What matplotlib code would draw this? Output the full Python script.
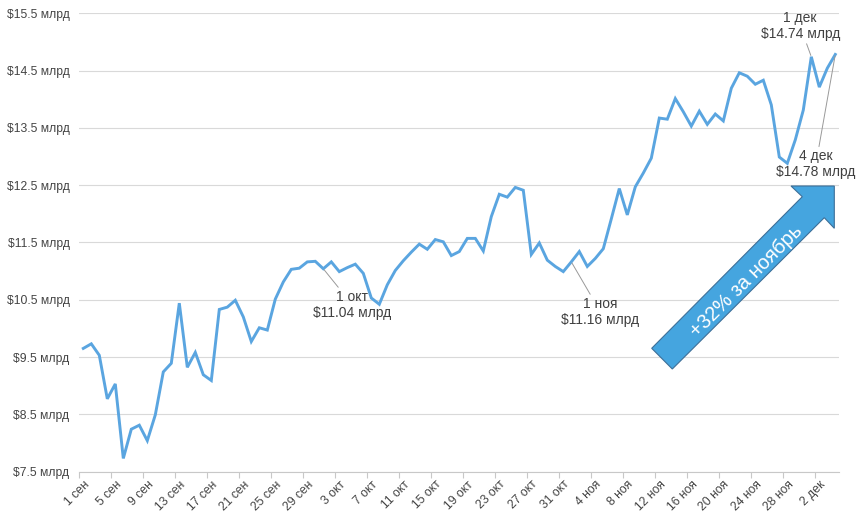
import numpy as np
import matplotlib
matplotlib.use("Agg")
import matplotlib.pyplot as plt
from matplotlib.patches import Polygon

plt.rcParams['font.family'] = ['Liberation Sans', 'DejaVu Sans']

# дневные значения с 1 сен по 4 дек, млрд $
values = [
    9.65, 9.73, 9.53, 8.77, 9.03, 7.73, 8.24, 8.31, 8.04, 8.49,
    9.24, 9.39, 10.44, 9.32, 9.58, 9.19, 9.09, 10.33, 10.37, 10.49,
    10.20, 9.77, 10.01, 9.97, 10.51, 10.81, 11.03, 11.05, 11.16, 11.17,
    11.04, 11.16, 10.99, 11.06, 11.12, 10.96, 10.53, 10.42, 10.76, 11.01,
    11.18, 11.33, 11.47, 11.38, 11.55, 11.51, 11.27, 11.34, 11.57, 11.57,
    11.35, 11.95, 12.34, 12.29, 12.46, 12.41, 11.29, 11.49, 11.19, 11.08,
    10.99, 11.16, 11.34, 11.08, 11.22, 11.39, 11.91, 12.44, 11.98, 12.47,
    12.71, 12.97, 13.67, 13.65, 14.01, 13.78, 13.53, 13.79, 13.56, 13.74,
    13.62, 14.19, 14.46, 14.40, 14.26, 14.33, 13.90, 12.99, 12.88, 13.29,
    13.81, 14.74, 14.21, 14.54, 14.78,
]

tick_labels = [
    "1 сен", "5 сен", "9 сен", "13 сен", "17 сен", "21 сен", "25 сен", "29 сен",
    "3 окт", "7 окт", "11 окт", "15 окт", "19 окт", "23 окт", "27 окт", "31 окт",
    "4 ноя", "8 ноя", "12 ноя", "16 ноя", "20 ноя", "24 ноя", "28 ноя", "2 дек",
]
y_ticks = [7.5, 8.5, 9.5, 10.5, 11.5, 12.5, 13.5, 14.5, 15.5]

# подписи: (индекс дня, текст, смещение текста в pt)
callouts = [
    (30, "1 окт\n$11.04 млрд", (21, -26)),
    (61, "1 ноя\n$11.16 млрд", (21, -36)),
    (91, "1 дек\n$14.74 млрд", (-8, 22)),
    (94, "4 дек\n$14.78 млрд", (-14, -79)),
]

W, H = 860, 521
fig = plt.figure(figsize=(W / 100, H / 100), dpi=100)
ax = fig.add_axes([79.3 / W, 1 - 471.6 / H, 760 / W, (471.6 - 13.2) / H])

x = np.arange(len(values))
ax.plot(x, values, color='#5aa5e0', lw=2.1, solid_joinstyle='miter', zorder=3)

ax.set_xlim(-0.5, len(values) - 0.5)
ax.set_ylim(7.5, 15.5)

ax.set_yticks(y_ticks)
ax.set_yticklabels([f"${v:g} млрд" for v in y_ticks])
ax.tick_params(axis='y', length=0, pad=7, labelsize=8.7, labelcolor='#444444')
ax.grid(axis='y', color='#d9d9d9', lw=0.8)
ax.set_axisbelow(True)

ax.set_xticks(x[::4])
ax.set_xticklabels(tick_labels, rotation=45, ha='right', rotation_mode='anchor')
ax.tick_params(axis='x', which='major', length=0, pad=5, labelsize=8.7, labelcolor='#444444')
ax.set_xticks(x[::4] - 0.5, minor=True)
ax.tick_params(axis='x', which='minor', length=4, width=0.8, color='#c8c8c8')

for side in ['top', 'right', 'left']:
    ax.spines[side].set_visible(False)
ax.spines['bottom'].set_color('#c8c8c8')
ax.spines['bottom'].set_linewidth(0.8)

for idx, txt, off in callouts:
    ax.annotate(txt, xy=(idx, values[idx]), xytext=off, textcoords='offset points',
                ha='center', va='center', fontsize=10, color='#404040', linespacing=1.15,
                arrowprops=dict(arrowstyle='-', color='#999999', lw=0.7,
                                shrinkA=0, shrinkB=1))

# большая стрелка роста за ноябрь (в пикселях фигуры)
arrow_px = [(651.7, 348.3), (802.3, 196.7), (791, 186), (834.3, 186),
            (834.3, 228.3), (824.3, 217.7), (672.3, 369)]
arrow = Polygon([(px / W, 1 - py / H) for px, py in arrow_px], closed=True,
                transform=fig.transFigure, facecolor='#45a5df', edgecolor='#3d6f98',
                lw=0.8, zorder=5)
fig.patches.append(arrow)
fig.text(746 / W, 1 - 281 / H, "+32% за ноябрь", rotation=45, ha='center', va='center',
         rotation_mode='anchor', fontsize=14.5, color='white', zorder=6)

fig.savefig("out.png", dpi=100)
